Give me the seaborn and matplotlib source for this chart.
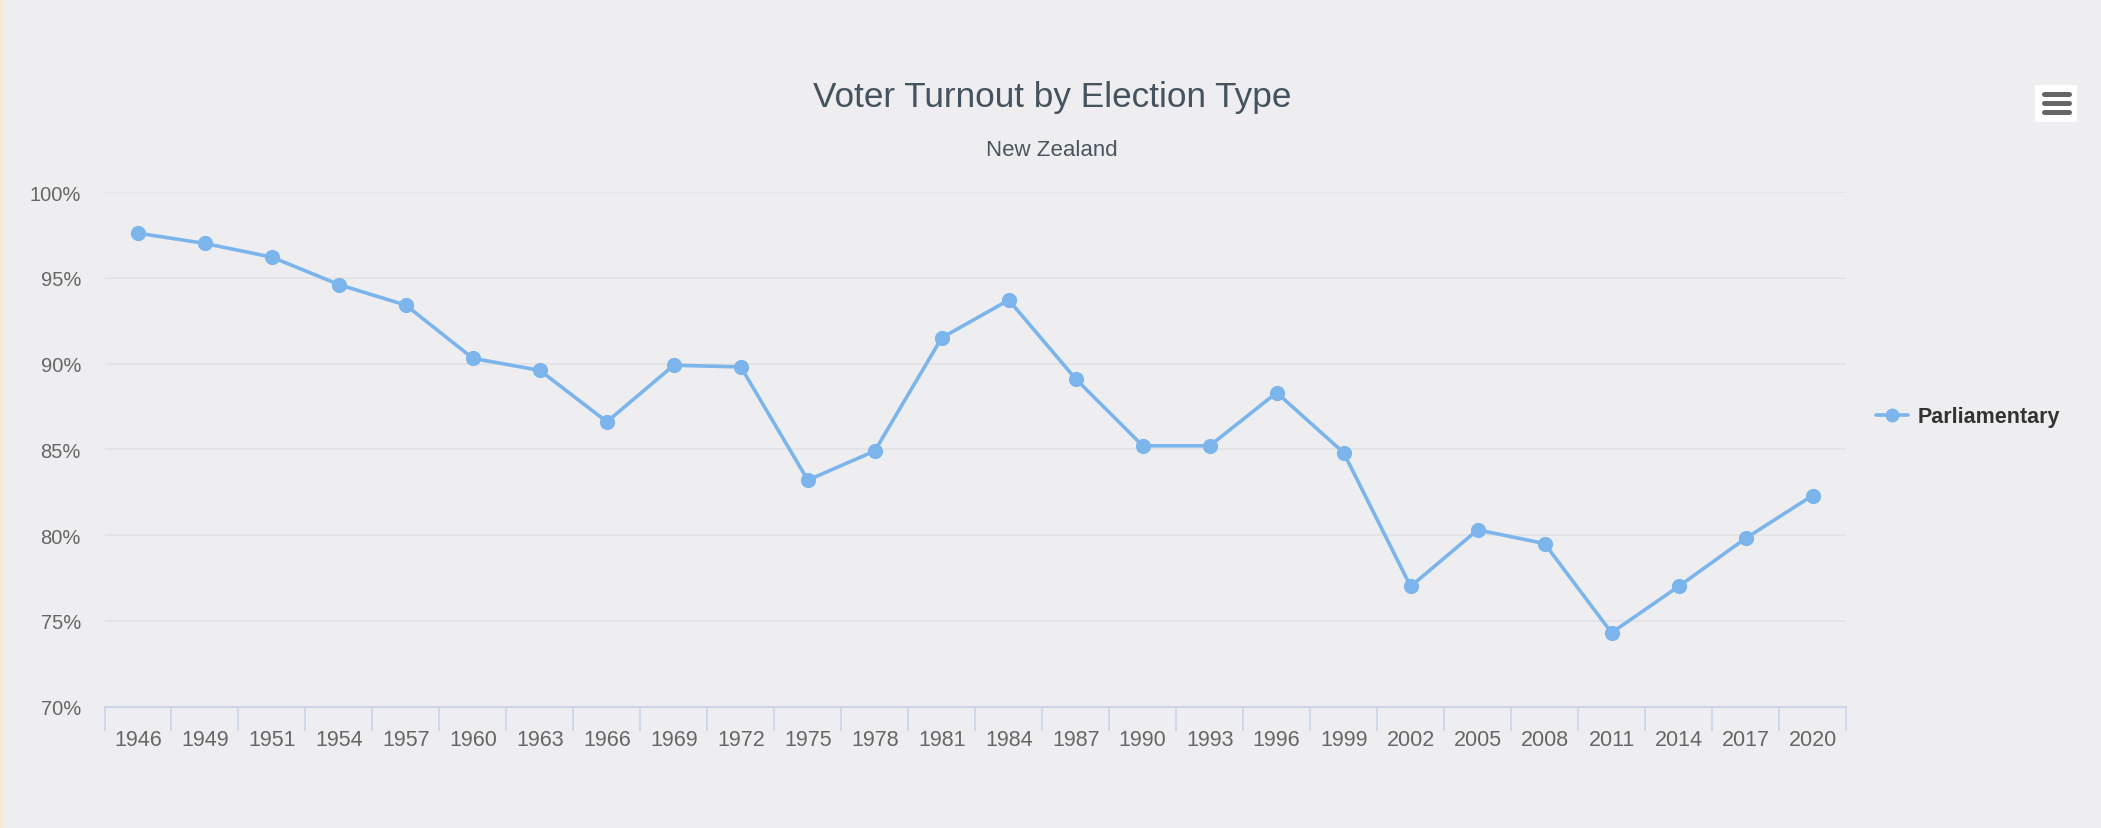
import matplotlib
matplotlib.use("Agg")
import matplotlib.pyplot as plt
import seaborn as sns
import pandas as pd
from matplotlib.patches import FancyBboxPatch
from matplotlib.lines import Line2D

years = ["1946", "1949", "1951", "1954", "1957", "1960", "1963", "1966", "1969", "1972",
         "1975", "1978", "1981", "1984", "1987", "1990", "1993", "1996", "1999", "2002",
         "2005", "2008", "2011", "2014", "2017", "2020"]
turnout = [97.6, 97.0, 96.2, 94.6, 93.4, 90.3, 89.6, 86.6, 89.9, 89.8,
           83.2, 84.9, 91.5, 93.7, 89.1, 85.2, 85.2, 88.3, 84.8, 77.0,
           80.3, 79.5, 74.3, 77.0, 79.8, 82.3]
series_name = "Parliamentary"
y_ticks = [70, 75, 80, 85, 90, 95, 100]
title = "Voter Turnout by Election Type"
subtitle = "New Zealand"

BG = "#eeeef0"
LINE = "#7cb5ec"
FONT = ["Liberation Sans", "DejaVu Sans"]

sns.set_theme(style="white")
plt.rcParams["font.family"] = FONT

W, H = 2101, 829
fig = plt.figure(figsize=(W / 100, H / 100), dpi=100)
fig.patch.set_facecolor(BG)
L, R, T, B = 104.5, 1846, 193, 707.5
ax = fig.add_axes([L / W, (H - B) / H, (R - L) / W, (B - T) / H])
ax.set_facecolor(BG)

df = pd.DataFrame({"year": years, "turnout": turnout})
sns.pointplot(data=df, x="year", y="turnout", color=LINE, markers="o",
              linestyles="-", markersize=9, linewidth=2.6, ax=ax, label=series_name)
if ax.get_legend() is not None:
    ax.get_legend().remove()

ax.set_xlim(-0.5, len(years) - 0.5)
ax.set_ylim(70, 100)
ax.set_yticks(y_ticks)
ax.set_yticklabels([f"{v}%" for v in y_ticks])
ax.set_xlabel("")
ax.set_ylabel("")
ax.grid(axis="y", color="#e3e3e5", linewidth=1.3)
ax.grid(axis="x", visible=False)
for s in ["top", "right", "left"]:
    ax.spines[s].set_visible(False)
ax.spines["bottom"].set_color("#ccd6eb")
ax.spines["bottom"].set_linewidth(1.5)

ax.tick_params(axis="x", which="major", bottom=True, length=0, pad=16, labelsize=15.5, labelcolor="#666666")
ax.set_xticks([i - 0.5 for i in range(len(years) + 1)], minor=True)
ax.tick_params(axis="x", which="minor", bottom=True, length=17, width=1.3, color="#ccd6eb", direction="out")
ax.tick_params(axis="y", length=0, pad=17, labelsize=14.5, labelcolor="#666666")
for lbl in ax.get_yticklabels():
    lbl.set_horizontalalignment("right")

fig.text(1052 / W, 1 - 98 / H, title, ha="center", va="center", fontsize=25.3, color="#44535e")
fig.text(1052 / W, 1 - 151 / H, subtitle, ha="center", va="center", fontsize=16, color="#4a5560")

# legend
leg_handle = Line2D([], [], color=LINE, marker="o", markersize=9, linewidth=2.6)
leg = fig.legend([leg_handle], [series_name], loc="center left",
                 bbox_to_anchor=(1876 / W, 1 - 418 / H), frameon=False,
                 handlelength=1.5, handletextpad=0.45, borderpad=0, borderaxespad=0,
                 prop={"family": FONT, "weight": "bold", "size": 15.5})
for t in leg.get_texts():
    t.set_color("#333333")

# export menu icon
box = FancyBboxPatch((2035 / W, 1 - 123 / H), 42 / W, 37 / H,
                     boxstyle="round,pad=0,rounding_size=0.002",
                     transform=fig.transFigure, facecolor="white", edgecolor="none")
fig.patches.append(box)
for yy in [95, 104, 113]:
    fig.add_artist(Line2D([2044 / W, 2069 / W], [1 - yy / H, 1 - yy / H],
                          transform=fig.transFigure, color="#666666",
                          linewidth=3.6, solid_capstyle="round"))

# faint left border
fig.add_artist(Line2D([0.5 / W, 0.5 / W], [0, 1], transform=fig.transFigure,
                      color="#f4ead0", linewidth=2.5))

fig.savefig("out.png", dpi=100, facecolor=BG)
